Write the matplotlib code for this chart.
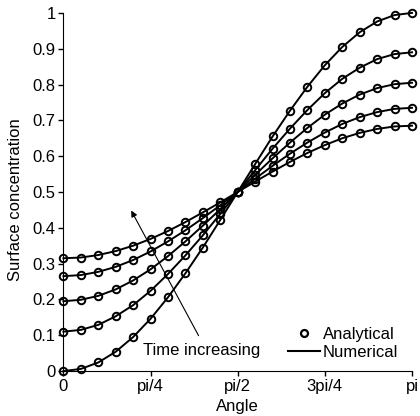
import numpy as np
import matplotlib
matplotlib.use("Agg")
import matplotlib.pyplot as plt
from matplotlib.lines import Line2D

plt.rcParams['font.family'] = ['Liberation Sans', 'DejaVu Sans']

# 21 sample angles, 0 .. pi in steps of pi/20
n_steps = 20
angle = np.arange(n_steps + 1) * np.pi / n_steps

# surface concentration curves (latest time first)
conc_t1 = [0.000, 0.006, 0.024, 0.054, 0.095, 0.146, 0.206, 0.273, 0.345, 0.422, 0.500,
           0.578, 0.655, 0.727, 0.794, 0.854, 0.905, 0.946, 0.976, 0.994, 1.000]
conc_t2 = [0.110, 0.115, 0.129, 0.153, 0.184, 0.224, 0.271, 0.323, 0.379, 0.439, 0.500,
           0.561, 0.621, 0.677, 0.729, 0.776, 0.816, 0.847, 0.871, 0.885, 0.890]
conc_t3 = [0.195, 0.199, 0.210, 0.228, 0.253, 0.284, 0.321, 0.362, 0.406, 0.452, 0.500,
           0.548, 0.594, 0.638, 0.679, 0.716, 0.747, 0.772, 0.790, 0.801, 0.805]
conc_t4 = [0.265, 0.268, 0.277, 0.291, 0.310, 0.334, 0.362, 0.393, 0.427, 0.463, 0.500,
           0.537, 0.573, 0.607, 0.638, 0.666, 0.690, 0.709, 0.723, 0.732, 0.735]
conc_t5 = [0.315, 0.317, 0.324, 0.335, 0.350, 0.369, 0.391, 0.416, 0.443, 0.471, 0.500,
           0.529, 0.557, 0.584, 0.609, 0.631, 0.650, 0.665, 0.676, 0.683, 0.685]
curves = [conc_t1, conc_t2, conc_t3, conc_t4, conc_t5]

xtick_pos = [0, np.pi / 4, np.pi / 2, 3 * np.pi / 4, np.pi]
xtick_lab = ['0', 'pi/4', 'pi/2', '3pi/4', 'pi']
ytick_pos = [0, 0.1, 0.2, 0.3, 0.4, 0.5, 0.6, 0.7, 0.8, 0.9, 1]
ytick_lab = ['0', '0.1', '0.2', '0.3', '0.4', '0.5', '0.6', '0.7', '0.8', '0.9', '1']

fig = plt.figure(figsize=(4.2, 4.16), dpi=100)
ax = fig.add_axes([0.151, 0.108, 0.830, 0.861])

for c in curves:
    ax.plot(angle, c, color='black', lw=1.4, clip_on=False)
    ax.plot(angle, c, 'o', mfc='none', mec='black', mew=1.4, ms=5.4, clip_on=False)

ax.set_xlim(0, np.pi)
ax.set_ylim(0, 1)
ax.set_xticks(xtick_pos)
ax.set_xticklabels(xtick_lab)
ax.set_yticks(ytick_pos)
ax.set_yticklabels(ytick_lab)
ax.tick_params(direction='out', length=3.5, width=1, labelsize=12, pad=2)
for s in ['top', 'right']:
    ax.spines[s].set_visible(False)
ax.set_xlabel('Angle', fontsize=12, va='center')
ax.xaxis.set_label_coords(0.5, -0.1)
ax.set_ylabel('Surface concentration', fontsize=12, va='center')
ax.yaxis.set_label_coords(-0.138, 0.478)

# arrow marking time direction
ax.annotate('', xy=(0.599, 0.455), xytext=(1.23, 0.092),
            arrowprops=dict(arrowstyle='-|>', color='black', lw=0.8,
                            mutation_scale=9))
ax.text(1.249, 0.058, 'Time increasing', ha='center', va='center', fontsize=12)

handles = [Line2D([], [], ls='none', marker='o', mfc='none', mec='black', mew=1.6, ms=5),
           Line2D([], [], color='black', lw=1.5)]
ax.legend(handles, ['Analytical', 'Numerical'], loc='lower right', frameon=False,
          fontsize=12, handlelength=1.9, handletextpad=0.18, labelspacing=0.2,
          borderaxespad=0.1, bbox_to_anchor=(0.985, 0.008))

fig.savefig('out.png', dpi=100)
